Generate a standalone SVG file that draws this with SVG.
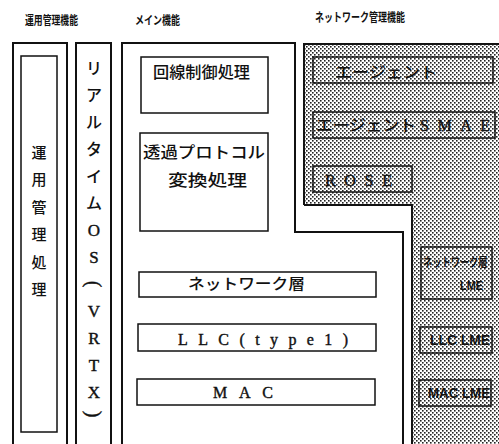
<svg xmlns="http://www.w3.org/2000/svg" width="499" height="444" viewBox="0 0 499 444">
<defs>
<pattern id="dots" width="4" height="4" patternUnits="userSpaceOnUse">
<rect width="4" height="4" fill="#fff"/>
<rect x="0" y="0" width="1.6" height="1.6" fill="#222"/>
<rect x="2" y="2" width="1.6" height="1.6" fill="#222"/>
</pattern>
<style>
.frame{fill:none;stroke:#111;stroke-width:2}
.box{fill:none;stroke:#111;stroke-width:1.5}
.jp{font-family:"Noto Sans CJK JP","Noto Sans",sans-serif;font-weight:500;fill:#111}
.lat{font-family:"Liberation Serif","Noto Sans CJK JP",serif;fill:#111;stroke:#111;stroke-width:0.4}
.hd{font-family:"Noto Sans CJK JP",sans-serif;font-weight:bold;font-size:12px;fill:#111}
.sm{font-family:"Noto Sans CJK JP",sans-serif;font-weight:bold;font-size:12px;fill:#111}
.lme{font-family:"Liberation Sans","Noto Sans CJK JP",sans-serif;font-weight:bold;fill:#111}
</style>
</defs>
<rect width="499" height="444" fill="#fff"/>

<g id="headers">
<text class="hd" x="25" y="24.5" textLength="53" lengthAdjust="spacingAndGlyphs">運用管理機能</text>
<text class="hd" x="135" y="24.5" textLength="45" lengthAdjust="spacingAndGlyphs">メイン機能</text>
<text class="hd" x="315" y="21.5" textLength="90" lengthAdjust="spacingAndGlyphs">ネットワーク管理機能</text>
</g>

<g id="ops">
<path class="frame" d="M13,444 V43 H67 V444"/>
<rect class="box" x="21" y="56" width="36" height="376"/>
<text class="jp" font-size="15" text-anchor="middle"><tspan x="39" y="158">運</tspan><tspan x="39" dy="27.4">用</tspan><tspan x="39" dy="27.4">管</tspan><tspan x="39" dy="27.4">理</tspan><tspan x="39" dy="27.4">処</tspan><tspan x="39" dy="27.4">理</tspan></text>
</g>

<g id="rtos">
<path class="frame" d="M76,444 V43 H111 V444"/>
<text class="jp" font-size="16" text-anchor="middle"><tspan x="94" y="74">リ</tspan><tspan x="94" dy="27">ア</tspan><tspan x="94" dy="27">ル</tspan><tspan x="94" dy="27">タ</tspan><tspan x="94" dy="27">イ</tspan><tspan x="94" dy="27">ム</tspan></text>
<text class="lat" font-size="17" text-anchor="middle"><tspan x="94" y="236">O</tspan><tspan x="94" dy="27">S</tspan></text>
<text class="lat" font-size="20" text-anchor="middle" dominant-baseline="central" transform="translate(94,284) rotate(90)">(</text>
<text class="lat" font-size="17" text-anchor="middle"><tspan x="94" y="317">V</tspan><tspan x="94" dy="27">R</tspan><tspan x="94" dy="27">T</tspan><tspan x="94" dy="27">X</tspan></text>
<text class="lat" font-size="20" text-anchor="middle" dominant-baseline="central" transform="translate(94,414) rotate(90)">)</text>
</g>

<g id="main">
<path class="frame" d="M122,444 V43 H295 V232 H403 V444"/>
</g>

<g id="line-ctrl">
<rect class="box" x="141" y="57" width="127" height="56"/>
<text class="jp" font-size="16" x="153" y="78" textLength="97" lengthAdjust="spacingAndGlyphs">回線制御処理</text>
</g>

<g id="proto-conv">
<rect class="box" x="140" y="133" width="128" height="98"/>
<text class="jp" font-size="16" x="143" y="158" textLength="122" lengthAdjust="spacingAndGlyphs">透過プロトコル</text>
<text class="jp" font-size="16" x="168" y="186" textLength="79" lengthAdjust="spacingAndGlyphs">変換処理</text>
</g>

<g id="net-layer">
<rect class="box" x="139" y="272" width="237" height="25"/>
<text class="jp" font-size="15" x="188" y="289" textLength="117" lengthAdjust="spacingAndGlyphs">ネットワーク層</text>
</g>

<g id="llc">
<rect class="box" x="138" y="324" width="238" height="27"/>
<text class="lat" font-size="16" x="178" y="345" textLength="170" lengthAdjust="spacing">LLC(type1)</text>
</g>

<g id="mac">
<rect class="box" x="137" y="379" width="238" height="26"/>
<text class="lat" font-size="16" x="213" y="398" textLength="60" lengthAdjust="spacing">MAC</text>
</g>

<g id="netmgmt">
<path d="M304,44 H510 V450 H412 V205 H304 Z" fill="url(#dots)"/>
<path class="frame" d="M304,205 V44 H510 M304,205 H412 V444"/>
</g>

<g id="agent">
<rect class="box" x="313" y="57" width="180" height="26"/>
<text class="jp" font-size="16" x="335" y="78" textLength="102" lengthAdjust="spacingAndGlyphs">エージェント</text>
</g>

<g id="agent-smae">
<rect class="box" x="313" y="112" width="182" height="26"/>
<text class="jp" font-size="16" x="316" y="131" textLength="100" lengthAdjust="spacingAndGlyphs">エージェント</text>
<text class="lat" font-size="16" x="420" y="131" textLength="70" lengthAdjust="spacing">SMAE</text>
</g>

<g id="rose">
<rect class="box" x="313" y="166" width="99" height="26"/>
<text class="lat" font-size="16" x="325" y="186" textLength="67" lengthAdjust="spacing">ROSE</text>
</g>

<g id="net-lme">
<rect class="box" x="421" y="247" width="71" height="52"/>
<text class="sm" transform="translate(423,266.5) scale(0.77,1)" x="0" y="0">ネットワーク層</text>
<text class="lme" font-size="13" x="460" y="290" textLength="23" lengthAdjust="spacingAndGlyphs">LME</text>
</g>

<g id="llc-lme">
<rect class="box" x="420" y="327" width="72" height="26"/>
<text class="lme" font-size="14" x="430" y="345" textLength="60" lengthAdjust="spacingAndGlyphs">LLC LME</text>
</g>

<g id="mac-lme">
<rect class="box" x="419" y="380" width="72" height="26"/>
<text class="lme" font-size="14" x="428" y="398" textLength="62" lengthAdjust="spacingAndGlyphs">MAC LME</text>
</g>
</svg>
